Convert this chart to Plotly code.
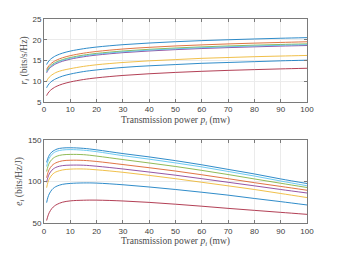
import plotly.graph_objects as go

x = [1, 1.5, 2, 3, 4, 5, 7, 10, 15, 20, 30, 40, 50, 60, 70, 80, 90, 100]

colors = ["#0072BD", "#D95319", "#EDB120", "#7E2F8E", "#77AC30", "#4DBEEE", "#A2142F", "#0072BD"]
names = ["User 1", "User 2", "User 3", "User 4", "User 5", "User 6", "User 7", "User 8"]

# spectral efficiency r_i (bits/s/Hz)
r1 = [14.0, 14.57, 14.98, 15.55, 15.96, 16.27, 16.75, 17.25, 17.82, 18.23, 18.80, 19.20, 19.52, 19.78, 19.99, 20.18, 20.35, 20.5]
r2 = [12.8, 13.39, 13.81, 14.40, 14.82, 15.14, 15.63, 16.15, 16.74, 17.16, 17.75, 18.16, 18.49, 18.75, 18.98, 19.17, 19.34, 19.5]
r3 = [10.0, 10.55, 10.95, 11.5, 11.9, 12.2, 12.6, 13.0, 13.55, 13.95, 14.5, 14.9, 15.2, 15.5, 15.7, 15.9, 16.05, 16.2]
r4 = [12.0, 12.58, 12.99, 13.57, 13.99, 14.31, 14.79, 15.30, 15.88, 16.29, 16.87, 17.28, 17.60, 17.87, 18.09, 18.28, 18.45, 18.6]
r5 = [12.4, 12.98, 13.39, 13.97, 14.39, 14.71, 15.19, 15.70, 16.28, 16.69, 17.27, 17.68, 18.00, 18.27, 18.49, 18.68, 18.85, 19.0]
r6 = [12.2, 12.78, 13.19, 13.77, 14.19, 14.51, 14.99, 15.50, 16.08, 16.49, 17.07, 17.48, 17.80, 18.07, 18.29, 18.48, 18.65, 18.8]
r7 = [6.5, 7.08, 7.49, 8.07, 8.49, 8.81, 9.29, 9.80, 10.38, 10.79, 11.37, 11.78, 12.10, 12.37, 12.59, 12.78, 12.95, 13.1]
r8 = [8.4, 9.0, 9.4, 10.0, 10.4, 10.7, 11.2, 11.7, 12.3, 12.7, 13.3, 13.7, 14.0, 14.3, 14.5, 14.7, 14.9, 15.05]

# energy efficiency e_i (bits/Hz/J)
e1 = [123, 128, 131.5, 135.5, 137.5, 139, 140.2, 140.5, 139.8, 138, 133.5, 129.5, 125, 120, 114.5, 109, 103, 97.5]
e2 = [104.5, 110.5, 114.5, 119, 121.5, 123, 124.8, 125.5, 125.3, 124, 120.3, 116.5, 112.5, 108, 103.3, 98.5, 94, 89.4]
e3 = [92.5, 99, 103, 107.8, 110.5, 112, 113.8, 114.8, 115, 114, 111, 107.3, 103.3, 99, 94.7, 90.3, 85.5, 80.6]
e4 = [99, 105, 109, 113.5, 116, 117.5, 119, 119.6, 119.5, 118.3, 115, 111.3, 107.5, 103.3, 99, 94.7, 90.3, 86.1]
e5 = [112, 118, 122, 126.5, 129, 130.5, 132, 132.5, 132.2, 130.5, 126.3, 122.2, 118, 113.3, 108.3, 103, 97.8, 92.7]
e6 = [118, 124, 128, 132.5, 135, 136.5, 137.8, 138.3, 137.6, 135.8, 131, 126.8, 122.3, 117.5, 112, 106.5, 100.5, 94.8]
e7 = [53, 58.5, 62.5, 67.5, 70.5, 72.5, 75, 76.6, 77.4, 77.5, 76.5, 74.8, 72.6, 70.2, 67.6, 65.2, 62.8, 60.4]
e8 = [74.5, 81, 85, 90, 92.8, 94.5, 96.5, 97.6, 98.2, 98, 96, 93.3, 90.3, 87, 83.5, 79.5, 75.7, 71.7]

r_series = [r1, r2, r3, r4, r5, r6, r7, r8]
e_series = [e1, e2, e3, e4, e5, e6, e7, e8]

fig = go.Figure()
for i in range(8):
    fig.add_trace(go.Scatter(x=x, y=r_series[i], mode="lines", line=dict(color=colors[i], width=0.9, shape="spline"),
                             opacity=0.9, name=names[i], showlegend=False, xaxis="x", yaxis="y"))
for i in range(8):
    fig.add_trace(go.Scatter(x=x, y=e_series[i], mode="lines", line=dict(color=colors[i], width=0.9, shape="spline"),
                             opacity=0.9, name=names[i], showlegend=False, xaxis="x2", yaxis="y2"))

tickfont = dict(family="Liberation Sans, Arial", size=8, color="#404040")
titlefont = dict(family="Liberation Serif, DejaVu Serif", size=9.5, color="#4a4a4a")
axcommon = dict(showline=True, mirror="ticks", linecolor="#7a7a7a", linewidth=1,
                ticks="inside", ticklen=3, tickcolor="#7a7a7a",
                showgrid=True, gridcolor="#ebebeb", gridwidth=1, zeroline=False,
                tickfont=tickfont, automargin=False)

xtitle = "Transmission power <i>p<sub>i</sub></i> (mw)"
fig.update_layout(
    width=339, height=254,
    margin=dict(l=36, r=40, t=11, b=39, autoexpand=False),
    paper_bgcolor="white", plot_bgcolor="white",
    xaxis=dict(domain=[0, 1], range=[0, 100], dtick=10, anchor="y",
               title=dict(text=xtitle, font=titlefont, standoff=2), **axcommon),
    yaxis=dict(domain=[0.594, 1], range=[5, 25], dtick=5, anchor="x",
               title=dict(text="<i>r<sub>i</sub></i> (bits/s/Hz)", font=titlefont, standoff=3), **axcommon),
    xaxis2=dict(domain=[0, 1], range=[0, 100], dtick=10, anchor="y2",
                title=dict(text=xtitle, font=titlefont, standoff=2), **axcommon),
    yaxis2=dict(domain=[0, 0.4075], range=[50, 150], dtick=50, anchor="x2",
                title=dict(text="<i>e<sub>i</sub></i> (bits/Hz/J)", font=titlefont, standoff=3), **axcommon),
)

fig.write_html("out.html")
